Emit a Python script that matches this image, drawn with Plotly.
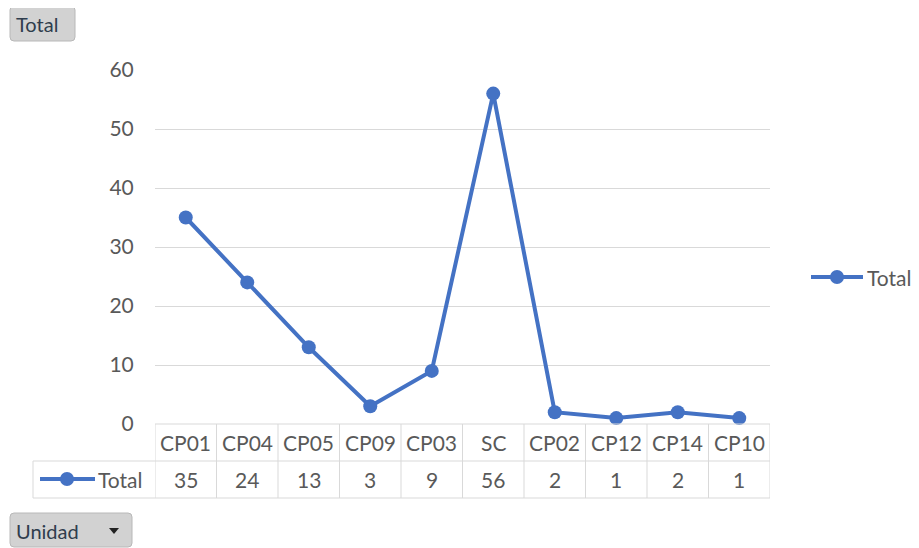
import plotly.graph_objects as go

categories = ["CP01", "CP04", "CP05", "CP09", "CP03", "SC", "CP02", "CP12", "CP14", "CP10"]
values = [35, 24, 13, 3, 9, 56, 2, 1, 2, 1]
series_name = "Total"
y_ticks = [0, 10, 20, 30, 40, 50, 60]

W, H = 919, 548
OFF = 8  # default page body margin
L, R, T, B = 155, 770, 70, 424  # screen pixels of plot area
BLUE = "#4472C4"
GRID = "#d9d9d9"
TXT = "#595959"
FONT = "Lato, 'Noto Sans', sans-serif"
FS = 21

def fx(px):
    return (px - L) / (R - L)

def fy(py):
    return (B - py) / (B - T)

fig = go.Figure()
fig.add_trace(go.Scatter(
    x=categories, y=values, mode="lines+markers", name=series_name,
    line=dict(color=BLUE, width=4), marker=dict(color=BLUE, size=14),
    showlegend=False, cliponaxis=False,
))

shapes = []
annotations = []
n = len(categories)
row1 = fy(461)
row2 = fy(498)

def txt(x, y, s, xref="paper", xanchor="center", size=FS, color=TXT):
    return dict(x=x, y=y, xref=xref, yref="paper", text=s, showarrow=False,
                xanchor=xanchor, yanchor="middle", font=dict(size=size, color=color, family=FONT))

# table horizontal lines
shapes.append(dict(type="line", xref="paper", yref="paper", x0=0, x1=1, y0=0, y1=0, line=dict(color=GRID, width=1)))
shapes.append(dict(type="line", xref="paper", yref="paper", x0=fx(33), x1=1, y0=row1, y1=row1, line=dict(color=GRID, width=1)))
shapes.append(dict(type="line", xref="paper", yref="paper", x0=fx(33), x1=1, y0=row2, y1=row2, line=dict(color=GRID, width=1)))
shapes.append(dict(type="line", xref="paper", yref="paper", x0=fx(33), x1=fx(33), y0=row1, y1=row2, line=dict(color=GRID, width=1)))
for i in range(n + 1):
    shapes.append(dict(type="line", xref="x", yref="paper", x0=i - 0.5, x1=i - 0.5, y0=0, y1=row2, line=dict(color=GRID, width=1)))
for c, v in zip(categories, values):
    annotations.append(txt(c, row1 / 2, c, xref="x"))
    annotations.append(txt(c, (row1 + row2) / 2, str(v), xref="x"))
# table legend key
ky = fy(479)
shapes.append(dict(type="line", xref="paper", yref="paper", x0=fx(40), x1=fx(95), y0=ky, y1=ky, line=dict(color=BLUE, width=4)))
shapes.append(dict(type="circle", xref="paper", yref="paper", x0=fx(60), x1=fx(74), y0=fy(486), y1=fy(472), fillcolor=BLUE, line=dict(color=BLUE, width=0)))
annotations.append(txt(fx(96), ky, series_name, xanchor="left"))
# right legend
ly = fy(277)
shapes.append(dict(type="line", xref="paper", yref="paper", x0=fx(811), x1=fx(863), y0=ly, y1=ly, line=dict(color=BLUE, width=4)))
shapes.append(dict(type="circle", xref="paper", yref="paper", x0=fx(830), x1=fx(844), y0=fy(284), y1=fy(270), fillcolor=BLUE, line=dict(color=BLUE, width=0)))
annotations.append(txt(fx(865), ly, series_name, xanchor="left"))

# buttons
def button(x0, y0, x1, y1):
    r = 4
    p = (f"M {fx(x0+r)} {fy(y0)} L {fx(x1-r)} {fy(y0)} Q {fx(x1)} {fy(y0)} {fx(x1)} {fy(y0+r)} "
         f"L {fx(x1)} {fy(y1-r)} Q {fx(x1)} {fy(y1)} {fx(x1-r)} {fy(y1)} "
         f"L {fx(x0+r)} {fy(y1)} Q {fx(x0)} {fy(y1)} {fx(x0)} {fy(y1-r)} "
         f"L {fx(x0)} {fy(y0+r)} Q {fx(x0)} {fy(y0)} {fx(x0+r)} {fy(y0)} Z")
    return dict(type="path", xref="paper", yref="paper", path=p, fillcolor="#d2d2d2",
                line=dict(color="#b8b8b8", width=1), layer="above")

shapes.append(button(10, 6, 75, 41))
annotations.append(txt(fx(14), fy(24), "Total", xanchor="left", size=20, color="#2f3d4d"))
shapes.append(button(10, 513, 132, 547))
annotations.append(txt(fx(14), fy(531), "Unidad", xanchor="left", size=20, color="#2f3d4d"))
shapes.append(dict(type="path", xref="paper", yref="paper",
                   path=f"M {fx(109)} {fy(528)} L {fx(119)} {fy(528)} L {fx(114)} {fy(534)} Z",
                   fillcolor="#222222", line=dict(width=0), layer="above"))

fig.update_layout(
    width=W, height=H,
    margin=dict(l=L - OFF, r=W - R + OFF, t=T - OFF, b=H - B + OFF, pad=0),
    plot_bgcolor="white", paper_bgcolor="white",
    font=dict(family=FONT, color=TXT, size=FS),
    xaxis=dict(type="category", range=[-0.5, n - 0.5], showticklabels=False, showgrid=False,
               zeroline=False, showline=False, ticks=""),
    yaxis=dict(range=[0, 60], tickvals=y_ticks, showgrid=True, gridcolor=GRID, gridwidth=1,
               zeroline=False, showline=False, ticks="outside", ticklen=16, tickcolor="rgba(0,0,0,0)",
               tickfont=dict(size=FS, color=TXT, family=FONT)),
    shapes=shapes, annotations=annotations,
)

fig.write_html("out.html")
